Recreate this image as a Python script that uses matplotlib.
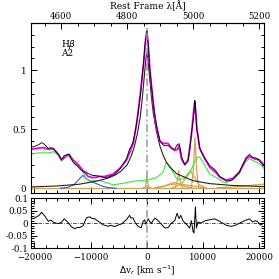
import numpy as np
import matplotlib.pyplot as plt
from matplotlib.ticker import MultipleLocator

# model (magenta) total fit, km/s vs normalised flux
total_v = [-20600, -19290, -18410, -17520, -16640, -15750, -15170, -14570, -13860, -13100,
           -12210, -11330, -10440, -9560, -8370, -7490, -6020, -4780, -3600, -2420,
           -1830, -1240, -600, -250, 0, 250, 530, 830, 1120, 1420,
           1710, 2000, 2300, 2890, 3770, 4370, 4960, 5400, 5720, 6140,
           6730, 7310, 7910, 8300, 8500, 8700, 8900, 9380, 10270, 11150,
           12340, 12920, 14110, 15280, 16460, 17100, 17650, 18230, 19120, 20000, 20800]
total_y = [0.33, 0.34, 0.345, 0.33, 0.335, 0.29, 0.24, 0.265, 0.29, 0.24,
           0.20, 0.15, 0.10, 0.09, 0.10, 0.10, 0.12, 0.17, 0.24, 0.38,
           0.55, 0.77, 1.05, 1.25, 1.33, 1.20, 1.00, 0.86, 0.72, 0.60,
           0.52, 0.46, 0.40, 0.38, 0.38, 0.34, 0.32, 0.33, 0.36, 0.25,
           0.20, 0.24, 0.45, 0.65, 0.73, 0.62, 0.50, 0.34, 0.25, 0.18,
           0.13, 0.095, 0.07, 0.085, 0.14, 0.20, 0.25, 0.27, 0.25, 0.24, 0.195]

# FeII template (green)
feii_v = [-20600, -19290, -17520, -16640, -15750, -15170, -14100, -13100, -12210, -11330,
          -10800, -10100, -9000, -8000, -7000, -6000, -4500, -3000, -1500, 0,
          1700, 2900, 3480, 4070, 4600, 5300, 6000, 6700, 7900, 8800,
          9380, 10000, 10800, 11150, 12000, 13500, 14100, 15000, 16400, 17000,
          17650, 18230, 19100, 20000, 20800]
feii_y = [0.29, 0.30, 0.30, 0.31, 0.28, 0.23, 0.28, 0.23, 0.19, 0.14,
          0.08, 0.06, 0.07, 0.06, 0.045, 0.03, 0.04, 0.055, 0.065, 0.07,
          0.09, 0.14, 0.22, 0.19, 0.14, 0.08, 0.075, 0.09, 0.16, 0.26,
          0.265, 0.22, 0.15, 0.12, 0.10, 0.055, 0.05, 0.065, 0.12, 0.18,
          0.23, 0.25, 0.23, 0.21, 0.17]

# blue component
blue_v = [-15400, -14000, -13000, -12200, -11400, -11000, -10000, -9000, -8000, -7000, -5500]
blue_y = [0.0, 0.01, 0.03, 0.07, 0.11, 0.09, 0.06, 0.04, 0.02, 0.008, 0.0]

# broad Hbeta (black)
broad_v = [-20600, -16000, -12000, -9000, -7000, -5500, -4500, -3500, -2900, -2300,
           -1700, -1200, -800, -400, -150, 0, 150, 400, 800, 1120,
           1710, 2300, 2890, 3480, 4070, 5260, 6430, 8200, 11150, 15000, 20800]
broad_y = [0.012, 0.02, 0.035, 0.06, 0.085, 0.115, 0.15, 0.20, 0.26, 0.34,
           0.46, 0.60, 0.77, 0.98, 1.11, 1.15, 1.11, 0.98, 0.78, 0.64,
           0.48, 0.36, 0.28, 0.22, 0.18, 0.125, 0.10, 0.065, 0.04, 0.025, 0.015]

# narrow / semi-broad lines (orange)
orange_lines = {
    'base': ([-20600, 20800], [0.005, 0.005]),
    'hb_narrow': ([-700, -300, -150, 0, 150, 300, 700], [0.005, 0.012, 0.05, 0.10, 0.05, 0.012, 0.005]),
    'o4959_wide': ([1500, 3000, 4000, 4900, 5800, 6800, 8000], [0.005, 0.015, 0.035, 0.05, 0.035, 0.015, 0.005]),
    'o4959_core': ([5000, 5400, 5650, 5900, 6300], [0.005, 0.06, 0.15, 0.06, 0.005]),
    'o5007_wide': ([4500, 6000, 7000, 7800, 8500, 9300, 10500], [0.005, 0.03, 0.09, 0.145, 0.09, 0.03, 0.005]),
    'o5007_core': ([7900, 8250, 8550, 8850, 9200], [0.005, 0.15, 0.43, 0.15, 0.005]),
    'hump': ([1500, 3500, 5500, 7500, 10000], [0.005, 0.025, 0.04, 0.025, 0.005]),
    'red_end': ([12500, 15000, 17000, 19000, 20800], [0.005, 0.01, 0.018, 0.028, 0.035]),
}

# residuals (observed - model)
resid_v = [-20530, -20180, -19590, -19200, -18710, -18110, -17520, -17080, -16640, -16200,
           -15750, -15170, -14690, -14110, -13400, -12800, -12390, -11910, -11330, -10740,
           -10140, -9740, -9260, -8850, -8370, -7790, -6900, -6370, -5720, -5130,
           -4550, -4070, -3660, -3060, -2830, -2480, -2040, -1590, -1010, -710,
           -410, -180, 230, 530, 830, 1150, 1420, 2000, 2600, 3190,
           3770, 4370, 4960, 5360, 5720, 6020, 6430, 7030, 7610, 7910,
           8200, 8370, 8620, 8800, 9080, 9470, 9970, 10440, 11150, 12040,
           12920, 13450, 14110, 14990, 15580, 16160, 16760, 17350, 18230, 18820,
           19290, 19700, 20180, 20580]
resid_y = [0.021, 0.017, 0.025, 0.03, 0.043, 0.027, 0.007, 0.012, 0.004, 0.0,
           -0.002, 0.003, 0.017, 0.005, -0.015, -0.023, -0.017, -0.018, -0.01, 0.021,
           0.025, 0.018, 0.017, 0.01, 0.003, -0.007, -0.013, -0.009, -0.014, -0.008,
           -0.004, 0.005, 0.013, 0.031, 0.02, 0.021, 0.0, -0.013, -0.019, 0.005,
           0.013, -0.005, 0.017, 0.005, 0.0, 0.012, 0.02, 0.01, -0.005, -0.02,
           -0.018, 0.0, 0.01, 0.039, 0.018, 0.031, 0.008, -0.005, -0.02, 0.01,
           -0.033, -0.04, 0.065, -0.02, 0.005, 0.0, 0.005, 0.01, 0.013, 0.017,
           0.007, 0.0, -0.009, -0.013, -0.01, -0.004, 0.003, 0.009, 0.017, 0.004,
           0.01, 0.005, -0.008, -0.003]

xmin, xmax = -20600, 20800
orange = '#d4a24c'

plt.rcParams['font.family'] = 'DejaVu Serif'
plt.rcParams['font.size'] = 6.5

fig = plt.figure(figsize=(2.79, 2.79), dpi=100)
ax1 = fig.add_axes([0.111, 0.308, 0.835, 0.610])
ax2 = fig.add_axes([0.111, 0.111, 0.835, 0.179])

# observed = model + residual
grid = np.union1d(total_v, resid_v)
obs = np.interp(grid, total_v, total_y) + np.interp(grid, resid_v, resid_y)

for key, (vv, yy) in orange_lines.items():
    ax1.plot(vv, yy, color=orange, lw=0.9)
ax1.plot(blue_v, blue_y, color='#3050ff', lw=0.8)
ax1.plot(feii_v, feii_y, color='#33ee33', lw=0.8)
ax1.plot(broad_v, broad_y, color='#222222', lw=0.8)
ax1.plot(total_v, total_y, color='#ee00ee', lw=1.3)
ax1.plot(grid, obs, color='black', lw=0.6)
ax1.axvline(0, color='#999999', lw=1.1, ls=(0, (5, 2, 1, 2)))

ax1.set_xlim(xmin, xmax)
ax1.set_ylim(-0.04, 1.40)
ax1.set_yticks([0, 0.5, 1])
ax1.set_yticklabels(['0', '0.5', '1'])
ax1.yaxis.set_minor_locator(MultipleLocator(0.1))
ax1.xaxis.set_major_locator(MultipleLocator(10000))
ax1.xaxis.set_minor_locator(MultipleLocator(2000))
ax1.tick_params(which='both', direction='in', right=True, labelbottom=False, width=0.7,
                labelsize=6.2)
ax1.tick_params(which='major', length=4)
ax1.tick_params(which='minor', length=2)
ax1.text(-15200, 1.20, r'H$\beta$', fontsize=6.5)
ax1.text(-15200, 1.12, 'A2', fontsize=6.5)

top = ax1.secondary_xaxis('top', functions=(lambda v: 4859.3 + v * 0.017035,
                                             lambda l: (l - 4859.3) / 0.017035))
top.set_xticks([4600, 4800, 5000, 5200])
top.xaxis.set_minor_locator(MultipleLocator(50))
top.tick_params(which='both', direction='in', width=0.7, pad=1.5, labelsize=6.2)
top.tick_params(which='major', length=4)
top.tick_params(which='minor', length=2)
top.set_xlabel('Rest Frame λ[Å]', labelpad=2)

ax2.plot(resid_v, resid_y, color='black', lw=0.7)
ax2.axhline(0, color='black', lw=0.5, ls=(0, (5, 2, 1, 2)))
ax2.axvline(0, color='#999999', lw=1.1, ls=(0, (5, 2, 1, 2)))
ax2.set_xlim(xmin, xmax)
ax2.set_ylim(-0.1, 0.1)
ax2.set_yticks([-0.1, -0.05, 0, 0.05, 0.1])
ax2.set_yticklabels(['-0.1', '-0.05', '0', '0.05', '0.1'])
ax2.yaxis.set_minor_locator(MultipleLocator(0.01))
ax2.xaxis.set_major_locator(MultipleLocator(10000))
ax2.xaxis.set_minor_locator(MultipleLocator(2000))
ax2.tick_params(which='both', direction='in', top=True, right=True, width=0.7, labelsize=6.2)
ax2.tick_params(axis='x', pad=3.5)
ax2.tick_params(axis='y', pad=2)
ax2.tick_params(which='major', length=4)
ax2.tick_params(which='minor', length=2)
ax2.set_xlabel(r'$\Delta$v$_r$ [km s$^{-1}$]', labelpad=1)

for a in (ax1, ax2):
    for s in a.spines.values():
        s.set_linewidth(0.8)

fig.savefig('out.png', dpi=100)
